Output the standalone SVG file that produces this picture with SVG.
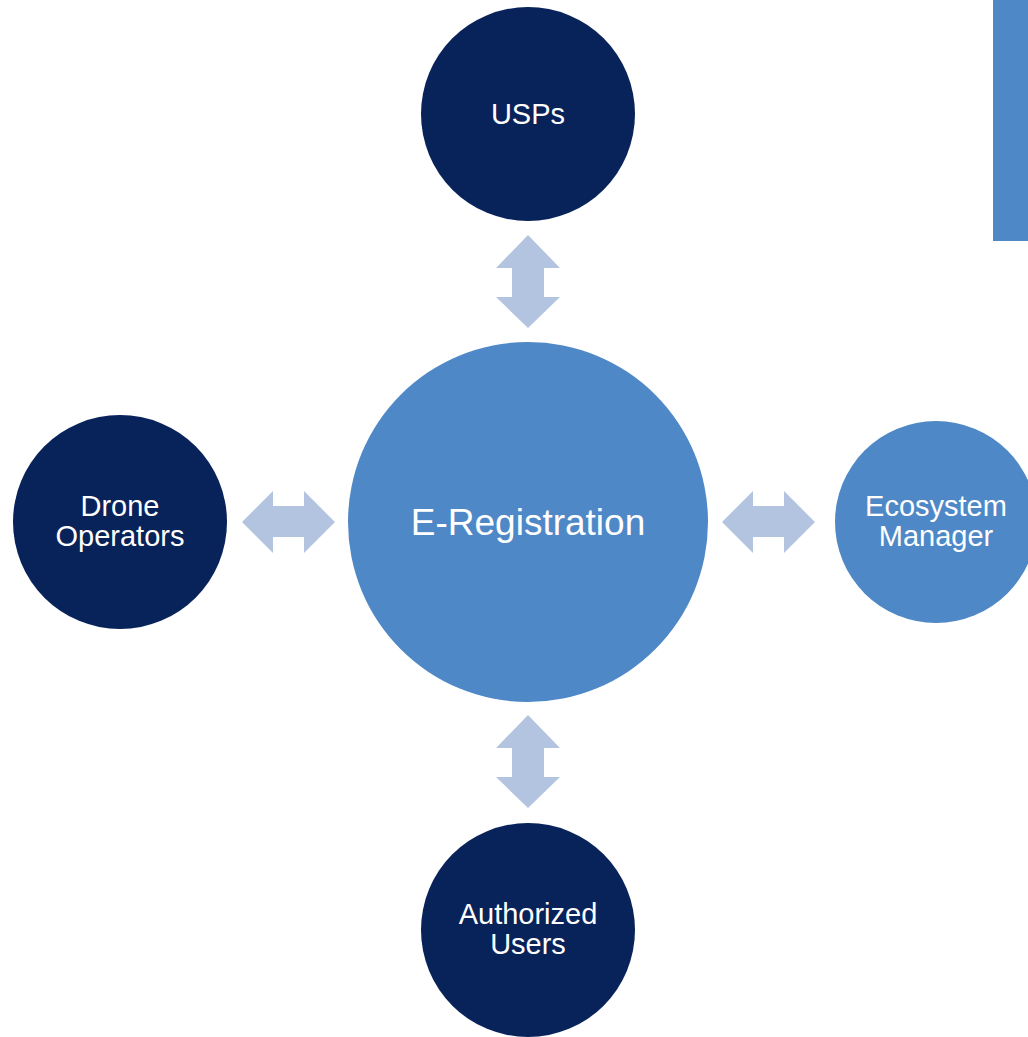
<svg xmlns="http://www.w3.org/2000/svg" width="1028" height="1037" viewBox="0 0 1028 1037">
<style>
.dark{fill:#08225A}
.mid{fill:#4F88C6}
.arr{fill:#B3C4E1}
text{font-family:"Liberation Sans",Arial,sans-serif;fill:#fff;text-anchor:middle}
.s{font-size:29px}
.b{font-size:37px}
</style>
<rect width="1028" height="1037" fill="#fff"/>
<rect x="993" y="0" width="35" height="241" class="mid"/>
<g id="connectors">
<polygon class="arr" points="528,235 560,268 544,268 544,297 560,297 528,328 496,297 512,297 512,268 496,268"/>
<polygon class="arr" points="528,715 560,748 544,748 544,777 560,777 528,808 496,777 512,777 512,748 496,748"/>
<polygon class="arr" points="242,522 273,491 273,506 304,506 304,491 335,522 304,553 304,537 273,537 273,553"/>
<polygon class="arr" points="722,522 753,491 753,506 784,506 784,491 815,522 784,553 784,537 753,537 753,553"/>
</g>
<g id="usps"><circle cx="528" cy="114" r="107" class="dark"/><text x="528" y="124" class="s">USPs</text></g>
<g id="drone"><circle cx="120" cy="522" r="107" class="dark"/><text x="120" y="516" class="s">Drone</text><text x="120" y="546" class="s">Operators</text></g>
<g id="ereg"><circle cx="528" cy="522" r="180" class="mid"/><text x="528" y="535" class="b">E-Registration</text></g>
<g id="eco"><circle cx="936" cy="522" r="101" class="mid"/><text x="936" y="516" class="s">Ecosystem</text><text x="936" y="546" class="s">Manager</text></g>
<g id="auth"><circle cx="528" cy="930" r="107" class="dark"/><text x="528" y="924" class="s">Authorized</text><text x="528" y="954" class="s">Users</text></g>
</svg>
